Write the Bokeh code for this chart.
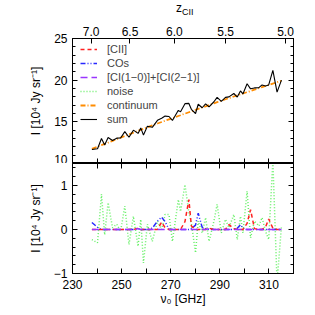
from bokeh.plotting import figure
from bokeh.layouts import column
from bokeh.models import LinearAxis, Range1d, FixedTicker, Legend, LegendItem, Div
from bokeh.embed import file_html
from bokeh.resources import INLINE

# ---------------- data ----------------
freq = [237.9, 240.2, 241.8, 243.1, 244.5, 246.3, 248.0, 249.6, 251.3, 253.0,
        254.8, 256.7, 257.8, 258.9, 260.5, 262.5, 264.6, 266.3, 267.7, 269.3,
        270.7, 273.1, 274.0, 275.8, 277.4, 278.4, 280.1, 281.2, 282.8, 284.2,
        285.6, 287.6, 288.9, 290.6, 292.3, 293.7, 295.7, 297.1, 298.4, 299.4,
        301.1, 302.5, 304.1, 305.9, 307.2, 308.6, 309.9, 311.6, 313.3, 315.1]
noise = [-0.23, -0.30, 0.80, -0.12, 0.61, 0.04, 0.12, -0.04, 0.53, -0.34,
         0.30, -0.38, 0.23, -0.76, 0.12, -0.27, 0.19, 0.00, 0.34, 0.34,
         -0.27, 0.68, 0.41, 1.02, 0.38, 0.15, -0.53, 0.19, -0.08, 0.27,
         -0.27, 0.19, 0.57, -0.08, 0.23, 0.04, 0.34, -0.23, 0.30, -0.08,
         0.87, -0.19, 0.19, 0.08, 0.27, -0.04, -0.23, 1.55, -1.20, 0.08]
cii = [0, 0, 0, 0, 0, 0, 0, 0, 0, 0,
       0, 0.03, 0, 0, 0, 0, 0, 0.17, 0.04, 0,
       0, 0, 0, 0.18, 0.68, 0.08, 0, 0, 0, 0,
       0.03, 0, 0, 0, 0, 0.11, 0.02, 0, 0, 0,
       0.14, 0.45, 0.02, 0, 0, 0.05, 0.24, 0.03, 0, 0]
cos = [0.16, 0.05, 0, 0, 0, 0, 0, 0, 0, 0,
       0, 0.02, 0, 0, 0, 0.03, 0.19, 0.28, 0.18, 0,
       0, 0, 0, 0, 0, 0.02, 0.10, 0.37, 0.05, 0.02,
       0, 0, 0, 0, 0, 0, 0, 0.03, 0.11, 0.03,
       0, 0, 0, 0, 0, 0, 0, 0, 0, 0]
ci = [0, 0, 0, 0, 0, 0, 0, 0, 0, 0,
      0, 0.02, 0, 0, 0, 0, 0, 0, 0, 0,
      0, 0, 0, 0, 0, 0, 0, 0, 0, 0,
      0.02, 0, 0, 0, 0, 0, 0, 0, 0, 0,
      0, 0, 0, 0, 0, 0, 0, 0, 0, 0]
continuum = [11.75, 12.02, 12.20, 12.35, 12.51, 12.72, 12.92, 13.10, 13.30, 13.49,
             13.70, 13.92, 14.04, 14.17, 14.35, 14.58, 14.80, 14.98, 15.13, 15.30,
             15.44, 15.70, 15.79, 15.98, 16.15, 16.25, 16.43, 16.55, 16.72, 16.86,
             17.01, 17.22, 17.36, 17.54, 17.71, 17.84, 18.04, 18.17, 18.30, 18.40,
             18.56, 18.70, 18.86, 19.03, 19.16, 19.30, 19.42, 19.59, 19.76, 19.93]
total = [c + n + a + b + d for c, n, a, b, d in zip(continuum, noise, cii, cos, ci)]

x_tick_labels = [230, 250, 270, 290, 310]
z_tick_labels = [7.0, 6.5, 6.0, 5.5, 5.0]
nu_cii_rest = 1900.537

FONT = "Liberation Sans"
FW = 221

def style_axis(ax, labels=True):
    ax.major_tick_in = 5
    ax.major_tick_out = 0
    ax.minor_tick_in = 3
    ax.minor_tick_out = 0
    ax.axis_line_color = "black"
    ax.major_tick_line_color = "black"
    ax.minor_tick_line_color = "black"
    ax.major_label_text_font = FONT
    ax.major_label_text_color = "black"
    ax.axis_label_text_font = FONT
    ax.axis_label_text_font_style = "normal"
    ax.axis_label_text_font_size = "12px"
    ax.axis_label_text_color = "black"
    ax.major_label_text_font_size = "12px"
    if not labels:
        ax.major_label_text_font_size = "1px"
        ax.major_label_standoff = 0

def blank(ticks):
    return {t: "" for t in ticks}

x_ticks = list(range(230, 321, 10))
x_over = {t: (str(t) if t in x_tick_labels else "") for t in x_ticks}
y_top_ticks = [10, 15, 20, 25]
y_bot_ticks = [-1, 0, 1]

# ---------------- header (z_CII axis title) ----------------
header = Div(text='<div style="margin:-1px 0 0 0; padding:0 0 0 176px; font-family:\'Liberation Sans\';'
                  ' font-size:12px; line-height:12px; white-space:nowrap; color:black;">'
                  'z<sub style="font-size:9px; line-height:9px; vertical-align:-3px;">CII</sub></div>',
             width=303, height=15, margin=(0, 0, 0, 0))

# ---------------- top panel ----------------
top = figure(frame_width=FW, frame_height=125,
             x_range=Range1d(230, 320), y_range=Range1d(10, 25),
             output_backend="svg", toolbar_location=None,
             x_axis_location=None, y_axis_location=None,
             min_border_left=72, min_border_right=10, min_border_top=23, min_border_bottom=0)
top.grid.visible = False
top.outline_line_color = "black"
top.background_fill_color = "white"

yl = LinearAxis(ticker=FixedTicker(ticks=y_top_ticks, minor_ticks=list(range(10, 26))),
                axis_label="I [10\u2074 Jy sr\u207b\u00b9]")
style_axis(yl)
yl.major_label_standoff = 5
yl.axis_label_standoff = 8
top.add_layout(yl, "left")
yr = LinearAxis(ticker=FixedTicker(ticks=y_top_ticks, minor_ticks=list(range(10, 26))),
                major_label_overrides=blank(y_top_ticks))
style_axis(yr, labels=False)
top.add_layout(yr, "right")
xb = LinearAxis(ticker=FixedTicker(ticks=x_ticks), major_label_overrides=blank(x_ticks))
style_axis(xb, labels=False)
top.add_layout(xb, "below")

z_pos = [nu_cii_rest / (1 + z) for z in z_tick_labels]
xa = LinearAxis(ticker=FixedTicker(ticks=z_pos),
                major_label_overrides={p: f"{z:.1f}" for p, z in zip(z_pos, z_tick_labels)})
style_axis(xa)
xa.major_label_standoff = 3
top.add_layout(xa, "above")

r_cii_t = top.line(freq, cii, line_color="#ff2020", line_width=1.5, line_dash="4 3")
r_cos_t = top.line(freq, cos, line_color="#2828ff", line_width=1.5, line_dash="5 2 1 2 1 2")
r_ci_t = top.line(freq, ci, line_color="#9a35ff", line_width=1.5, line_dash="7 4")
r_noise_t = top.line(freq, noise, line_color="#66f066", line_width=1.5, line_dash="1 2")
r_cont = top.line(freq, continuum, line_color="#ff8c00", line_width=1.8, line_dash="5 2 1 2")
r_sum = top.line(freq, total, line_color="black", line_width=1.1)

legend = Legend(items=[
    LegendItem(label="[CII]", renderers=[r_cii_t]),
    LegendItem(label="COs", renderers=[r_cos_t]),
    LegendItem(label="[CI(1\u22120)]+[CI(2\u22121)]", renderers=[r_ci_t]),
    LegendItem(label="noise", renderers=[r_noise_t]),
    LegendItem(label="continuum", renderers=[r_cont]),
    LegendItem(label="sum", renderers=[r_sum]),
], location=(8, 37))
legend.background_fill_alpha = 0
legend.border_line_alpha = 0
legend.label_text_font = FONT
legend.label_text_font_size = "11px"
legend.glyph_width = 17
legend.glyph_height = 14
legend.label_height = 14
legend.spacing = 0
legend.padding = 0
legend.margin = 0
legend.label_standoff = 10
top.add_layout(legend)

# ---------------- bottom panel ----------------
bot = figure(frame_width=FW, frame_height=110,
             x_range=top.x_range, y_range=Range1d(-1.0, 1.5),
             output_backend="svg", toolbar_location=None,
             x_axis_location=None, y_axis_location=None,
             min_border_left=72, min_border_right=10, min_border_top=0, min_border_bottom=30)
bot.grid.visible = False
bot.outline_line_color = "black"

minor_b = [round(-1.0 + 0.2 * i, 1) for i in range(13)]
yl2 = LinearAxis(ticker=FixedTicker(ticks=y_bot_ticks, minor_ticks=minor_b),
                 axis_label="I [10\u2074 Jy sr\u207b\u00b9]")
style_axis(yl2)
yl2.major_label_standoff = 5
yl2.axis_label_standoff = 8
bot.add_layout(yl2, "left")
yr2 = LinearAxis(ticker=FixedTicker(ticks=y_bot_ticks, minor_ticks=minor_b),
                 major_label_overrides=blank(y_bot_ticks))
style_axis(yr2, labels=False)
bot.add_layout(yr2, "right")
xa2 = LinearAxis(ticker=FixedTicker(ticks=x_ticks), major_label_overrides=blank(x_ticks))
style_axis(xa2, labels=False)
bot.add_layout(xa2, "above")
xb2 = LinearAxis(ticker=FixedTicker(ticks=x_ticks), major_label_overrides=x_over,
                 axis_label="\u03bd\u2080 [GHz]")
style_axis(xb2)
xb2.major_label_standoff = 6
xb2.axis_label_standoff = 0
bot.add_layout(xb2, "below")

bot.line(freq, noise, line_color="#66f066", line_width=1.5, line_dash="1 2")
bot.line(freq, cos, line_color="#2828ff", line_width=1.5, line_dash="5 2 1 2 1 2")
bot.line(freq, cii, line_color="#ff2020", line_width=1.5, line_dash="4 3")
bot.line(freq, ci, line_color="#9a35ff", line_width=1.5, line_dash="7 4")

layout = column(header, top, bot, spacing=0)
open("out.html", "w").write(file_html(layout, INLINE))
